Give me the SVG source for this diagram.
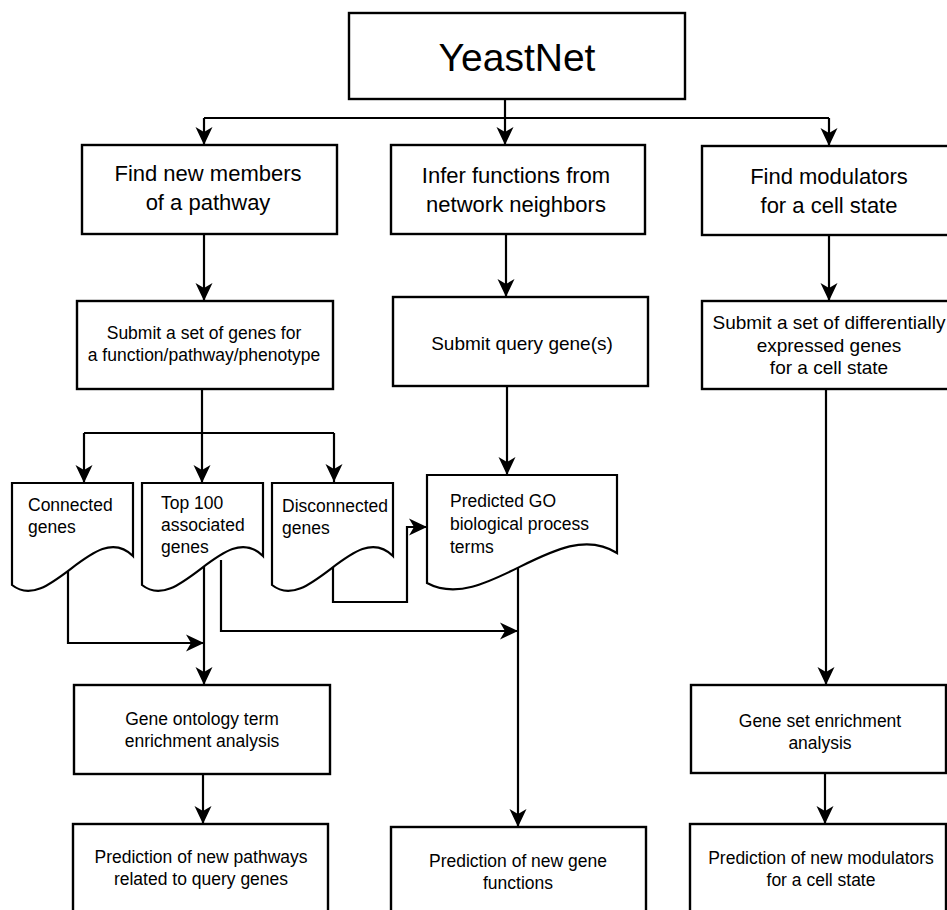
<svg xmlns="http://www.w3.org/2000/svg" width="947" height="910" viewBox="0 0 947 910">
<style>
.box{fill:#fff;stroke:#000;stroke-width:2.4}
.doc{fill:#fff;stroke:#000;stroke-width:2.2;stroke-linejoin:miter}
.con{fill:none;stroke:#000;stroke-width:2.2}
.arr{marker-end:url(#ah)}
text{font-family:"Liberation Sans",Arial,sans-serif;fill:#000}
.t1{font-size:39px;text-anchor:middle}
.t2{font-size:22px;text-anchor:middle}
.t3{font-size:17.5px;text-anchor:middle}
.t4{font-size:19px;text-anchor:middle}
.td{font-size:17.5px}
</style>
<defs>
<marker id="ah" markerUnits="userSpaceOnUse" markerWidth="22" markerHeight="20" viewBox="-20 -10 22 20" refX="0" refY="0" orient="auto">
<path d="M0,0 L-18,-8.5 L-13,0 L-18,8.5 Z" fill="#000"/>
</marker>
</defs>
<rect width="947" height="910" fill="#fff"/>
<g id="connectors">
<path class="con arr" d="M505,99 V145"/>
<path class="con" d="M204,118 H829"/>
<path class="con arr" d="M204,118 V145"/>
<path class="con arr" d="M829,118 V146"/>
<path class="con arr" d="M204,234 V301"/>
<path class="con arr" d="M506,234 V297"/>
<path class="con arr" d="M829,235 V301"/>
<path class="con arr" d="M202,389 V483"/>
<path class="con" d="M84,433 H334"/>
<path class="con arr" d="M84,433 V483"/>
<path class="con arr" d="M334,433 V482"/>
<path class="con arr" d="M507,386 V475"/>
<path class="con arr" d="M826,389 V685"/>
<path class="con arr" d="M68,565 V643 H204"/>
<path class="con arr" d="M204,555 V685"/>
<path class="con arr" d="M221,560 V631 H518"/>
<path class="con arr" d="M333,563 V602 H407 V527 H427"/>
<path class="con arr" d="M518,566 V827"/>
<path class="con arr" d="M203,774 V824"/>
<path class="con arr" d="M825,773 V824"/>
</g>
<g id="yeastnet">
<rect class="box" x="349" y="13" width="336" height="86"/>
<text class="t1" x="517" y="71">YeastNet</text>
</g>
<g id="find-members">
<rect class="box" x="82" y="145" width="255" height="89"/>
<text class="t2" x="208" y="181">Find new members</text>
<text class="t2" x="208" y="210">of a pathway</text>
</g>
<g id="infer-functions">
<rect class="box" x="391" y="145" width="254" height="89"/>
<text class="t2" x="516" y="183">Infer functions from</text>
<text class="t2" x="516" y="212">network neighbors</text>
</g>
<g id="find-modulators">
<rect class="box" x="702" y="146" width="260" height="89"/>
<text class="t2" x="829" y="184">Find modulators</text>
<text class="t2" x="829" y="213">for a cell state</text>
</g>
<g id="submit-set">
<rect class="box" x="77" y="301" width="256" height="88"/>
<text class="t3" x="204" y="339">Submit a set of genes for</text>
<text class="t3" x="204" y="361">a function/pathway/phenotype</text>
</g>
<g id="submit-query">
<rect class="box" x="393" y="297" width="255" height="89"/>
<text class="t4" x="522" y="350">Submit query gene(s)</text>
</g>
<g id="submit-diff">
<rect class="box" x="702" y="301" width="260" height="88"/>
<text class="t4" x="829" y="329">Submit a set of differentially</text>
<text class="t4" x="829" y="352">expressed genes</text>
<text class="t4" x="829" y="374">for a cell state</text>
</g>
<g id="connected-genes">
<path class="doc" d="M12,483 H133 V556 C95,518 50,615 12,585 Z"/>
<text class="td" x="28" y="511">Connected</text>
<text class="td" x="28" y="533">genes</text>
</g>
<g id="top100">
<path class="doc" d="M142,483 H263 V556 C225,518 180,615 142,585 Z"/>
<text class="td" x="161" y="509">Top 100</text>
<text class="td" x="161" y="531">associated</text>
<text class="td" x="161" y="553">genes</text>
</g>
<g id="disconnected-genes">
<path class="doc" d="M272,483 H393 V556 C355,518 310,615 272,585 Z"/>
<text class="td" x="282" y="512">Disconnected</text>
<text class="td" x="282" y="534">genes</text>
</g>
<g id="predicted-go">
<path class="doc" d="M427,475 H617 V553 C558,515 486,615 427,583 Z"/>
<text class="td" x="450" y="507">Predicted GO</text>
<text class="td" x="450" y="530">biological process</text>
<text class="td" x="450" y="553">terms</text>
</g>
<g id="go-enrichment">
<rect class="box" x="74" y="685" width="256" height="89"/>
<text class="t3" x="202" y="725">Gene ontology term</text>
<text class="t3" x="202" y="747">enrichment analysis</text>
</g>
<g id="gene-set-enrichment">
<rect class="box" x="691" y="685" width="255" height="88"/>
<text class="t3" x="820" y="727">Gene set enrichment</text>
<text class="t3" x="820" y="749">analysis</text>
</g>
<g id="pred-pathways">
<rect class="box" x="73" y="824" width="255" height="110"/>
<text class="t3" x="201" y="863">Prediction of new pathways</text>
<text class="t3" x="201" y="885">related to query genes</text>
</g>
<g id="pred-functions">
<rect class="box" x="391" y="827" width="255" height="110"/>
<text class="t3" x="518" y="867">Prediction of new gene</text>
<text class="t3" x="518" y="889">functions</text>
</g>
<g id="pred-modulators">
<rect class="box" x="690" y="824" width="256" height="110"/>
<text class="t3" x="821" y="864">Prediction of new modulators</text>
<text class="t3" x="821" y="886">for a cell state</text>
</g>
</svg>
